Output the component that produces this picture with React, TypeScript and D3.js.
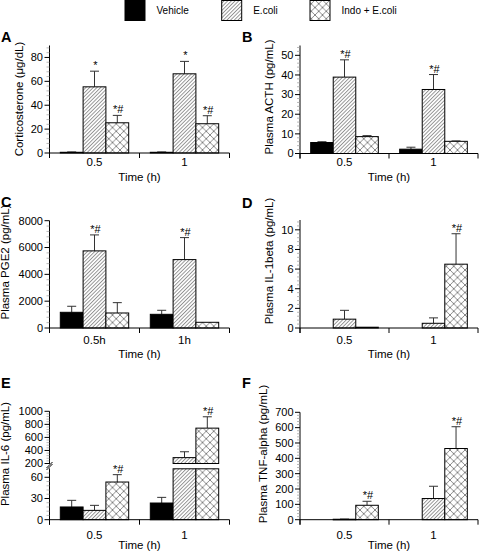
import React from 'react';
import * as d3 from 'd3';

const SERIES = ['Vehicle', 'E.coli', 'Indo + E.coli'];
const GROUPS = ['0.5', '1'];
const GROUPS_C = ['0.5h', '1h'];

// Panel A: Corticosterone
const A_VEHICLE = [0.6, 0.6];
const A_VEHICLE_SEM = [0.3, 0.3];
const A_ECOLI = [55.4, 66.3];
const A_ECOLI_SEM = [13.1, 10.4];
const A_INDO = [25.3, 24.5];
const A_INDO_SEM = [6.2, 6.7];
const A_SIG_ECOLI = ['*', '*'];
const A_SIG_INDO = ['*#', '*#'];
const A_TICKS = [0, 20, 40, 60, 80];

// Panel B: ACTH
const B_VEHICLE = [5.6, 2.2];
const B_VEHICLE_SEM = [0.4, 1.0];
const B_ECOLI = [38.9, 32.6];
const B_ECOLI_SEM = [8.8, 7.6];
const B_INDO = [8.6, 6.2];
const B_INDO_SEM = [0.5, 0.2];
const B_SIG_ECOLI = ['*#', '*#'];
const B_TICKS = [0, 10, 20, 30, 40, 50];

// Panel C: PGE2
const C_VEHICLE = [1170, 1020];
const C_VEHICLE_SEM = [450, 300];
const C_ECOLI = [5750, 5100];
const C_ECOLI_SEM = [1190, 1640];
const C_INDO = [1120, 425];
const C_INDO_SEM = [770, 0];
const C_SIG_ECOLI = ['*#', '*#'];
const C_TICKS = [0, 2000, 4000, 6000, 8000];

// Panel D: IL-1beta
const D_VEHICLE = [0, 0];
const D_VEHICLE_SEM = [0, 0];
const D_ECOLI = [0.9, 0.48];
const D_ECOLI_SEM = [0.9, 0.55];
const D_INDO = [0.08, 6.5];
const D_INDO_SEM = [0, 3.1];
const D_SIG_INDO = ['', '*#'];
const D_TICKS = [0, 2, 4, 6, 8, 10];

// Panel E: IL-6 (broken axis)
const E_VEHICLE = [18, 23.6];
const E_VEHICLE_SEM = [9.4, 8];
const E_ECOLI = [13.2, 290];
const E_ECOLI_SEM = [7.1, 90];
const E_INDO = [53.3, 742];
const E_INDO_SEM = [10.4, 174];
const E_SIG_INDO = ['*#', '*#'];
const E_TICKS_LOW = [0, 30, 60];
const E_TICKS_HIGH = [200, 400, 600, 800, 1000];

// Panel F: TNF-alpha
const F_VEHICLE = [0, 0];
const F_VEHICLE_SEM = [0, 0];
const F_ECOLI = [3, 138];
const F_ECOLI_SEM = [1, 80];
const F_INDO = [94, 464];
const F_INDO_SEM = [26, 142];
const F_SIG_INDO = ['*#', '*#'];
const F_TICKS = [0, 100, 200, 300, 400, 500, 600, 700];

const NONE = ['', ''];
const FONT = '"Liberation Sans", Arial, Helvetica, sans-serif';

const LEFT = { x0: 49.5, x1: 229.5 };
const RIGHT = { x0: 300, x1: 478 };

const panels = [
  {
    id: 'A', ...LEFT, letterX: 1, letterY: 41.5,
    y0: 153, yTop: 45.5, domain: [0, 90], ticks: A_TICKS, minor: 4,
    groups: GROUPS,
    means: [A_VEHICLE, A_ECOLI, A_INDO], sems: [A_VEHICLE_SEM, A_ECOLI_SEM, A_INDO_SEM],
    sigs: [NONE, A_SIG_ECOLI, A_SIG_INDO],
    title: 'Corticosterone (\u03bcg/dL)', titleX: 23, titleY: 99,
    tickLabelDy: 12.5, xTitleDy: 27.5,
  },
  {
    id: 'B', ...RIGHT, letterX: 242, letterY: 41.5,
    y0: 153.5, yTop: 45.5, domain: [0, 55], ticks: B_TICKS, minor: 2,
    groups: GROUPS,
    means: [B_VEHICLE, B_ECOLI, B_INDO], sems: [B_VEHICLE_SEM, B_ECOLI_SEM, B_INDO_SEM],
    sigs: [NONE, B_SIG_ECOLI, NONE],
    title: 'Plasma ACTH (pg/mL)', titleX: 273, titleY: 97,
    tickLabelDy: 12.5, xTitleDy: 27.5,
  },
  {
    id: 'C', ...LEFT, letterX: 1, letterY: 207,
    y0: 328, yTop: 220.7, domain: [0, 8000], ticks: C_TICKS, minor: 400,
    groups: GROUPS_C,
    means: [C_VEHICLE, C_ECOLI, C_INDO], sems: [C_VEHICLE_SEM, C_ECOLI_SEM, C_INDO_SEM],
    sigs: [NONE, C_SIG_ECOLI, NONE],
    title: 'Plasma PGE2 (pg/mL)', titleX: 9, titleY: 262,
    tickLabelDy: 16, xTitleDy: 30,
  },
  {
    id: 'D', ...RIGHT, letterX: 242, letterY: 208,
    y0: 328, yTop: 220, domain: [0, 11], ticks: D_TICKS, minor: 0.4,
    groups: GROUPS,
    means: [D_VEHICLE, D_ECOLI, D_INDO], sems: [D_VEHICLE_SEM, D_ECOLI_SEM, D_INDO_SEM],
    sigs: [NONE, NONE, D_SIG_INDO],
    title: 'Plasma IL-1beta (pg/mL)', titleX: 273, titleY: 261,
    tickLabelDy: 16, xTitleDy: 30,
  },
  {
    id: 'E', ...LEFT, letterX: 1, letterY: 388,
    y0: 519.7, yTop: 468.8, domain: [0, 72], ticks: E_TICKS_LOW, minor: 6,
    high: { domain: [200, 1000], range: [463.5, 411.3], ticks: E_TICKS_HIGH, minor: 40 },
    groups: GROUPS,
    means: [E_VEHICLE, E_ECOLI, E_INDO], sems: [E_VEHICLE_SEM, E_ECOLI_SEM, E_INDO_SEM],
    sigs: [NONE, NONE, E_SIG_INDO],
    title: 'Plasma IL-6 (pg/mL)', titleX: 9, titleY: 454,
    tickLabelDy: 19, xTitleDy: 28.8,
  },
  {
    id: 'F', ...RIGHT, letterX: 242, letterY: 388,
    y0: 519.7, yTop: 412.3, domain: [0, 700], ticks: F_TICKS, minor: 20,
    groups: GROUPS,
    means: [F_VEHICLE, F_ECOLI, F_INDO], sems: [F_VEHICLE_SEM, F_ECOLI_SEM, F_INDO_SEM],
    sigs: [NONE, NONE, F_SIG_INDO],
    title: 'Plasma TNF-alpha (pg/mL)', titleX: 267, titleY: 454,
    tickLabelDy: 19, xTitleDy: 28.8,
  },
];

const FILLS = ['#000', 'url(#hatch)', 'url(#cross)'];

function minorTicks(lo: number, hi: number, step: number, majors: number[]) {
  const out: number[] = [];
  for (let v = lo; v <= hi + 1e-9; v += step) {
    const r = Math.round(v * 1000) / 1000;
    if (!majors.some((m) => Math.abs(m - r) < 1e-6)) out.push(r);
  }
  return out;
}

function YAxis({ scale, ticks, minor, x, lo, hi }: any) {
  return (
    <g>
      {minorTicks(lo, hi, minor, ticks).map((v) => (
        <line key={'m' + v} x1={x - 3} x2={x} y1={scale(v)} y2={scale(v)} stroke="#999" strokeWidth={0.7} />
      ))}
      {ticks.map((v: number) => (
        <g key={v}>
          <line x1={x - 5} x2={x} y1={scale(v)} y2={scale(v)} stroke="#000" strokeWidth={1} />
          <text x={x - 6.5} y={scale(v)} dy="0.35em" textAnchor="end" fontSize={11}>{v}</text>
        </g>
      ))}
    </g>
  );
}

function Panel({ p }: any) {
  const x = d3.scaleBand().domain(p.groups).range([p.x0, p.x1]).paddingInner(0.24).paddingOuter(0.12);
  const inner = d3.scaleBand().domain(SERIES).range([0, x.bandwidth()]);
  const y = d3.scaleLinear().domain(p.domain).range([p.y0, p.yTop]);
  const yh = p.high ? d3.scaleLinear().domain(p.high.domain).range(p.high.range) : null;
  const bw = inner.bandwidth();
  const mid = (p.x0 + p.x1) / 2;
  const xl = p.x0;

  const bars: any[] = [];
  p.groups.forEach((g: string, gi: number) => {
    SERIES.forEach((s, si) => {
      const v = p.means[si][gi];
      const e = p.sems[si][gi];
      const sig = p.sigs[si][gi];
      if (v <= 0) return;
      const bx = (x(g) as number) + (inner(s) as number);
      const cx = bx + bw / 2;
      let top: number;
      let errTop: number;
      const rects: any[] = [];
      if (yh && v > p.domain[1]) {
        const ly = y(p.domain[1]);
        rects.push({ y: ly, h: p.y0 - ly });
        top = yh(v);
        rects.push({ y: top, h: yh(p.high.domain[0]) - top });
        errTop = yh(v + e);
      } else {
        top = y(v);
        rects.push({ y: top, h: p.y0 - top });
        errTop = y(v + e);
      }
      bars.push(
        <g key={g + s}>
          {e > 0 && (
            <g stroke="#333" strokeWidth={1}>
              <line x1={cx} x2={cx} y1={top} y2={errTop} />
              <line x1={cx - 4.5} x2={cx + 4.5} y1={errTop} y2={errTop} />
            </g>
          )}
          {rects.map((r, i) => (
            <rect key={i} x={bx} y={r.y} width={bw} height={Math.max(r.h, 0.6)} fill={FILLS[si]} stroke="#000" strokeWidth={1} />
          ))}
          {sig && (
            <text x={cx + 1} y={errTop - 2} textAnchor="middle" fontSize={11}>{sig}</text>
          )}
        </g>
      );
    });
  });

  return (
    <g fontFamily={FONT}>
      <text x={p.letterX} y={p.letterY} fontSize={14.5} fontWeight="bold">{p.id}</text>
      {yh ? (
        <g>
          <line x1={xl} x2={xl} y1={p.y0 + 5} y2={p.yTop - 0.5} stroke="#000" />
          <line x1={xl} x2={xl} y1={p.high.range[0] + 0.5} y2={p.high.range[1]} stroke="#000" />
          <line x1={xl - 3} x2={xl + 3} y1={468} y2={462} stroke="#000" />
          <line x1={xl - 3} x2={xl + 3} y1={470} y2={464} stroke="#000" />
          <YAxis scale={y} ticks={p.ticks} minor={p.minor} x={xl} lo={p.domain[0]} hi={p.domain[1]} />
          <YAxis scale={yh} ticks={p.high.ticks} minor={p.high.minor} x={xl} lo={p.high.domain[0]} hi={p.high.domain[1]} />
        </g>
      ) : (
        <g>
          <line x1={xl} x2={xl} y1={p.y0 + 5} y2={p.yTop} stroke="#000" />
          <YAxis scale={y} ticks={p.ticks} minor={p.minor} x={xl} lo={p.domain[0]} hi={p.domain[1]} />
        </g>
      )}
      {bars}
      <line x1={p.x0} x2={p.x1} y1={p.y0} y2={p.y0} stroke="#000" />
      {[p.x0, mid, p.x1].map((t, i) => (
        <line key={i} x1={t} x2={t} y1={p.y0} y2={p.y0 + 5} stroke="#000" />
      ))}
      {p.groups.map((g: string) => (
        <text key={g} x={(x(g) as number) + x.bandwidth() / 2} y={p.y0 + p.tickLabelDy} textAnchor="middle" fontSize={11.5}>{g}</text>
      ))}
      <text x={mid} y={p.y0 + p.xTitleDy} textAnchor="middle" fontSize={11.5}>Time (h)</text>
      <text transform={`translate(${p.titleX},${p.titleY}) rotate(-90)`} textAnchor="middle" fontSize={11.5}>{p.title}</text>
    </g>
  );
}

const LEGEND_X = [125, 221.7, 310];

export default function App() {
  return (
    <svg width={480} height={553} style={{ position: 'absolute', left: 0, top: 0, background: '#fff' }}>
      <defs>
        <pattern id="hatch" patternUnits="userSpaceOnUse" width={2.6} height={2.6} patternTransform="rotate(45)">
          <rect width={2.6} height={2.6} fill="#fff" />
          <line x1={0.5} y1={0} x2={0.5} y2={2.6} stroke="#6a6a6a" strokeWidth={0.7} />
        </pattern>
        <pattern id="cross" patternUnits="userSpaceOnUse" width={7.5} height={7.5}>
          <rect width={7.5} height={7.5} fill="#fff" />
          <path d="M0,0 L7.5,7.5 M7.5,0 L0,7.5" stroke="#555" strokeWidth={0.7} />
        </pattern>
      </defs>
      <rect width={480} height={553} fill="#fff" />
      <g fontFamily={FONT}>
        {SERIES.map((s, i) => (
          <g key={s}>
            <rect x={LEGEND_X[i]} y={0.5} width={20} height={20} fill={FILLS[i]} stroke="#000" strokeWidth={1} />
            <text x={LEGEND_X[i] + 31.5} y={14} fontSize={10}>{s}</text>
          </g>
        ))}
      </g>
      {panels.map((p) => (
        <Panel key={p.id} p={p} />
      ))}
    </svg>
  );
}
